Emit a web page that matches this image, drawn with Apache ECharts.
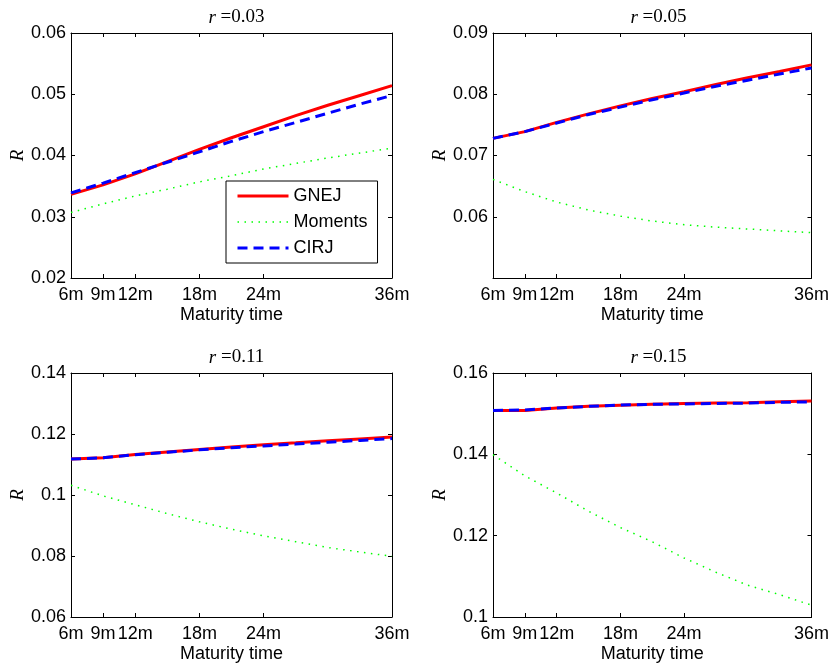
<!DOCTYPE html>
<html>
<head>
<meta charset="utf-8">
<script src="https://cdn.jsdelivr.net/npm/echarts@6/dist/echarts.min.js"></script>
<style>
  html, body { margin: 0; padding: 0; background: #fff; }
  #main { width: 832px; height: 664px; }
</style>
</head>
<body>
<div id="main"></div>
<script>
// maturity in months
var months = [6, 9, 12, 15, 18, 21, 24, 27, 30, 33, 36];
var monthTicks = [6, 9, 12, 18, 24, 36];
var rates = ["0.03", "0.05", "0.11", "0.15"];

// r = 0.03
var gnej1 = [0.03365, 0.0352, 0.0370, 0.0390, 0.0410, 0.0429, 0.0447, 0.0465, 0.0482, 0.0498, 0.0514];
var moments1 = [0.0307, 0.0321, 0.0334, 0.0345, 0.0357, 0.0367, 0.0378, 0.0387, 0.0396, 0.0404, 0.0412];
var cirj1 = [0.0339, 0.0355, 0.0372, 0.0389, 0.0406, 0.0423, 0.0439, 0.0454, 0.0469, 0.0484, 0.0498];
// r = 0.05
var gnej2 = [0.0728, 0.0739, 0.0754, 0.0768, 0.0781, 0.0793, 0.0804, 0.0816, 0.0827, 0.0837, 0.0848];
var moments2 = [0.0661, 0.0641, 0.0624, 0.0611, 0.0601, 0.0593, 0.0587, 0.0583, 0.0580, 0.0577, 0.0574];
var cirj2 = [0.0728, 0.0739, 0.0753, 0.0767, 0.0779, 0.0791, 0.0802, 0.0813, 0.0823, 0.0833, 0.0843];
// r = 0.11
var gnej3 = [0.1118, 0.1122, 0.1133, 0.1141, 0.1149, 0.1157, 0.1165, 0.1171, 0.1178, 0.1184, 0.1190];
var moments3 = [0.1032, 0.0997, 0.0968, 0.0939, 0.0912, 0.0888, 0.0866, 0.0847, 0.0828, 0.0813, 0.0799];
var cirj3 = [0.1118, 0.1122, 0.1132, 0.1140, 0.1148, 0.1155, 0.1161, 0.1167, 0.1173, 0.1179, 0.1185];
// r = 0.15
var gnej4 = [0.1508, 0.1508, 0.1514, 0.1518, 0.1521, 0.1523, 0.1525, 0.1526, 0.1527, 0.1529, 0.1531];
var moments4 = [0.1399, 0.1347, 0.1305, 0.1260, 0.1220, 0.1185, 0.1145, 0.1110, 0.1078, 0.1055, 0.1029];
var cirj4 = [0.1508, 0.1509, 0.1514, 0.1518, 0.1521, 0.1523, 0.1524, 0.1525, 0.1526, 0.1528, 0.1529];

// y axis tick labels per panel
var yTicks1 = [0.02, 0.03, 0.04, 0.05, 0.06];
var yTicks2 = [0.06, 0.07, 0.08, 0.09];
var yTicks3 = [0.06, 0.08, 0.1, 0.12, 0.14];
var yTicks4 = [0.1, 0.12, 0.14, 0.16];

var panels = [
  { gnej: gnej1, moments: moments1, cirj: cirj1, ticks: yTicks1, min: 0.02, max: 0.06 },
  { gnej: gnej2, moments: moments2, cirj: cirj2, ticks: yTicks2, min: 0.05, max: 0.09 },
  { gnej: gnej3, moments: moments3, cirj: cirj3, ticks: yTicks3, min: 0.06, max: 0.14 },
  { gnej: gnej4, moments: moments4, cirj: cirj4, ticks: yTicks4, min: 0.1, max: 0.16 },
];

var grids = [
  { left: 71, top: 33, width: 321, height: 245 },
  { left: 493, top: 33, width: 321, height: 245 },
  { left: 71, top: 373, width: 321, height: 245 },
  { left: 493, top: 373, width: 321, height: 245 },
];

var sans = "Liberation Sans";
var serif = "Liberation Serif";

function zip(xs, ys) {
  var out = [];
  for (var i = 0; i < xs.length; i++) out.push([xs[i], ys[i]]);
  return out;
}

var title = [], xAxis = [], yAxis = [], series = [];
var line = { show: true, lineStyle: { color: "#000", width: 1 } };

panels.forEach(function (p, g) {
  title.push({
    text: "{i|r} =" + rates[g],
    left: grids[g].left + grids[g].width / 2,
    top: grids[g].top - 30,
    textAlign: "center",
    textStyle: {
      fontFamily: serif, fontSize: 19, fontWeight: "normal", color: "#000",
      rich: { i: { fontFamily: serif, fontSize: 19, fontStyle: "italic", color: "#000" } },
    },
  });
  // bottom + top x axes
  xAxis.push({
    type: "value", gridIndex: g, min: 6, max: 36, interval: 3,
    name: "Maturity time", nameLocation: "middle", nameGap: 28,
    nameTextStyle: { fontFamily: sans, fontSize: 18, color: "#000" },
    axisLine: line,
    axisTick: { inside: true, length: 4, customValues: monthTicks, lineStyle: { color: "#000" } },
    axisLabel: {
      customValues: monthTicks, margin: 8, fontFamily: sans, fontSize: 18, color: "#000",
      formatter: function (v) { return v + "m"; },
    },
    splitLine: { show: false },
  });
  xAxis.push({
    type: "value", gridIndex: g, position: "top", min: 6, max: 36, interval: 3,
    axisLine: line,
    axisTick: { inside: true, length: 4, customValues: monthTicks, lineStyle: { color: "#000" } },
    axisLabel: { show: false },
    splitLine: { show: false },
  });
  // left + right y axes
  yAxis.push({
    type: "value", gridIndex: g, min: p.min, max: p.max,
    name: "R", nameLocation: "middle", nameGap: 44,
    nameTextStyle: { fontFamily: serif, fontSize: 19, fontStyle: "italic", color: "#000" },
    axisLine: line,
    axisTick: { inside: true, length: 4, customValues: p.ticks, lineStyle: { color: "#000" } },
    axisLabel: {
      customValues: p.ticks, margin: 5, fontFamily: sans, fontSize: 18, color: "#000",
      formatter: function (v) { return String(+v.toFixed(4)); },
    },
    splitLine: { show: false },
  });
  yAxis.push({
    type: "value", gridIndex: g, position: "right", min: p.min, max: p.max,
    axisLine: line,
    axisTick: { inside: true, length: 4, customValues: p.ticks, lineStyle: { color: "#000" } },
    axisLabel: { show: false },
    splitLine: { show: false },
  });

  series.push({
    name: "GNEJ", type: "line", xAxisIndex: 2 * g, yAxisIndex: 2 * g,
    data: zip(months, p.gnej), symbol: "none",
    lineStyle: { color: "#ff0000", width: 3 }, itemStyle: { color: "#ff0000" },
  });
  series.push({
    name: "Moments", type: "line", xAxisIndex: 2 * g, yAxisIndex: 2 * g,
    data: zip(months, p.moments), symbol: "none",
    lineStyle: { color: "#00ff00", width: 1.5, type: [1.5, 5.5] }, itemStyle: { color: "#00ff00" },
  });
  series.push({
    name: "CIRJ", type: "line", xAxisIndex: 2 * g, yAxisIndex: 2 * g,
    data: zip(months, p.cirj), symbol: "none",
    lineStyle: { color: "#0000ff", width: 3, type: [10, 6] }, itemStyle: { color: "#0000ff" },
  });
});

var myChart = echarts.init(document.getElementById("main"), null, { renderer: "canvas" });
var option = {
  animation: false,
  backgroundColor: "#fff",
  title: title,
  grid: grids,
  xAxis: xAxis,
  yAxis: yAxis,
  legend: {
    data: [
      { name: "GNEJ", lineStyle: { width: 3 } },
      { name: "Moments", lineStyle: { width: 1.5 } },
      { name: "CIRJ", lineStyle: { width: 3 } },
    ],
    orient: "vertical",
    left: 226,
    top: 181,
    padding: [6, 10, 6, 10],
    itemWidth: 51,
    itemHeight: 14,
    itemGap: 8,
    itemStyle: { opacity: 0 },
    backgroundColor: "#fff",
    borderColor: "#000",
    borderWidth: 1,
    borderRadius: 0,
    textStyle: { fontFamily: sans, fontSize: 18, color: "#000" },
  },
  series: series,
};
option && myChart.setOption(option);
</script>
</body>
</html>
